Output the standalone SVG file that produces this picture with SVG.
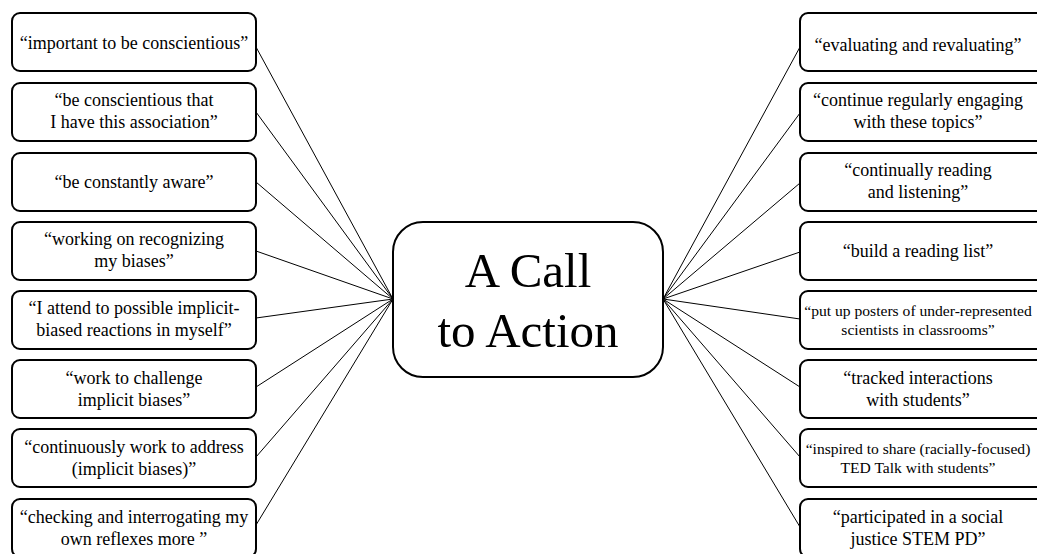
<svg xmlns="http://www.w3.org/2000/svg" width="1037" height="554" viewBox="0 0 1037 554">
<style>
.box{fill:#fff;stroke:#000;stroke-width:2}
.t{font-family:"Liberation Serif","Times New Roman",serif;font-size:18px;fill:#000;text-anchor:middle}
.s{font-size:15.6px}
.big{font-family:"Liberation Serif","Times New Roman",serif;font-size:49px;fill:#000;text-anchor:middle}
.c{stroke:#000;stroke-width:1;fill:none}
</style>
<rect width="1037" height="554" fill="#fff"/>
<g id="connectors">
<line class="c" x1="393" y1="299" x2="256" y2="47"/>
<line class="c" x1="393" y1="299" x2="256" y2="112"/>
<line class="c" x1="393" y1="299" x2="256" y2="182"/>
<line class="c" x1="393" y1="299" x2="256" y2="251"/>
<line class="c" x1="393" y1="299" x2="256" y2="318"/>
<line class="c" x1="393" y1="299" x2="256" y2="387"/>
<line class="c" x1="393" y1="299" x2="256" y2="457"/>
<line class="c" x1="393" y1="299" x2="256" y2="525"/>
<line class="c" x1="663" y1="299" x2="800" y2="47"/>
<line class="c" x1="663" y1="299" x2="800" y2="113"/>
<line class="c" x1="663" y1="299" x2="800" y2="183"/>
<line class="c" x1="663" y1="299" x2="800" y2="252"/>
<line class="c" x1="663" y1="299" x2="800" y2="319"/>
<line class="c" x1="663" y1="299" x2="800" y2="387"/>
<line class="c" x1="663" y1="299" x2="800" y2="457"/>
<line class="c" x1="663" y1="299" x2="800" y2="527"/>
</g>
<g id="center">
<rect class="box" x="393" y="222" width="270" height="155" rx="30"/>
<text class="big" x="528" y="287">A Call</text>
<text class="big" x="528" y="347">to Action</text>
</g>
<g id="l1"><rect class="box" x="12" y="13" width="244" height="58" rx="8"/><text class="t" x="134" y="49">“important to be conscientious”</text></g>
<g id="l2"><rect class="box" x="12" y="83" width="244" height="58" rx="8"/><text class="t" x="134" y="106">“be conscientious that</text><text class="t" x="134" y="128">I have this association”</text></g>
<g id="l3"><rect class="box" x="12" y="153" width="244" height="58" rx="8"/><text class="t" x="134" y="188">“be constantly aware”</text></g>
<g id="l4"><rect class="box" x="12" y="222" width="244" height="58" rx="8"/><text class="t" x="134" y="245">“working on recognizing</text><text class="t" x="134" y="267">my biases”</text></g>
<g id="l5"><rect class="box" x="12" y="291" width="244" height="58" rx="8"/><text class="t" x="134" y="314">“I attend to possible implicit-</text><text class="t" x="134" y="336">biased reactions in myself”</text></g>
<g id="l6"><rect class="box" x="12" y="360" width="244" height="58" rx="8"/><text class="t" x="134" y="384">“work to challenge</text><text class="t" x="134" y="406">implicit biases”</text></g>
<g id="l7"><rect class="box" x="12" y="429" width="244" height="58" rx="8"/><text class="t" x="134" y="453">“continuously work to address</text><text class="t" x="134" y="475">(implicit biases)”</text></g>
<g id="l8"><rect class="box" x="12" y="499" width="244" height="58" rx="8"/><text class="t" x="134" y="523">“checking and interrogating my</text><text class="t" x="134" y="545">own reflexes more ”</text></g>
<g id="r1"><rect class="box" x="800" y="13" width="244" height="58" rx="8"/><text class="t" x="918" y="51">“evaluating and revaluating”</text></g>
<g id="r2"><rect class="box" x="800" y="83" width="244" height="58" rx="8"/><text class="t" x="918" y="106">“continue regularly engaging</text><text class="t" x="918" y="128">with these topics”</text></g>
<g id="r3"><rect class="box" x="800" y="153" width="244" height="58" rx="8"/><text class="t" x="918" y="176">“continually reading</text><text class="t" x="918" y="198">and listening”</text></g>
<g id="r4"><rect class="box" x="800" y="222" width="244" height="58" rx="8"/><text class="t" x="918" y="257">“build a reading list”</text></g>
<g id="r5"><rect class="box" x="800" y="291" width="244" height="58" rx="8"/><text class="t s" x="918" y="316">“put up posters of under-represented</text><text class="t s" x="918" y="335">scientists in classrooms”</text></g>
<g id="r6"><rect class="box" x="800" y="360" width="244" height="58" rx="8"/><text class="t" x="918" y="384">“tracked interactions</text><text class="t" x="918" y="406">with students”</text></g>
<g id="r7"><rect class="box" x="800" y="429" width="244" height="58" rx="8"/><text class="t s" x="918" y="454">“inspired to share (racially-focused)</text><text class="t s" x="918" y="473">TED Talk with students”</text></g>
<g id="r8"><rect class="box" x="800" y="499" width="244" height="58" rx="8"/><text class="t" x="918" y="523">“participated in a social</text><text class="t" x="918" y="545">justice STEM PD”</text></g>
</svg>
